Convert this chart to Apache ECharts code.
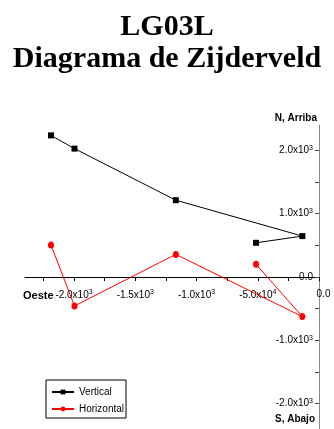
<!DOCTYPE html>
<html>
<head>
<meta charset="utf-8">
<script src="https://cdn.jsdelivr.net/npm/echarts@6/dist/echarts.min.js"></script>
<style>
  html, body { margin: 0; padding: 0; background: #fff; }
  #chart { width: 334px; height: 429px; }
</style>
</head>
<body>
<div id="chart"></div>
<script>
// East–west component shared by both projections
const eastWest = [-2188, -1996, -1169, -136, -514];
// Vertical projection (N/Up) and horizontal projection values
const verticalVals = [2236, 2027, 1213, 646, 540];
const horizontalVals = [504, -457, 357, -625, 200];

// Tick positions and their labels
const xTicks = [-2250, -2000, -1750, -1500, -1250, -1000, -750, -500, -250, 0];
const xLabelValues = [-2000, -1500, -1000, -500, 0];
const xLabelText = ['-2.0x10|3', '-1.5x10|3', '-1.0x10|3', '-5.0x10|4', '0.0'];
const yTicks = [-2000, -1500, -1000, -500, 0, 500, 1000, 1500, 2000];
const yLabelValues = [-2000, -1000, 0, 1000, 2000];
const yLabelText = ['-2.0x10|3', '-1.0x10|3', '0.0', '1.0x10|3', '2.0x10|3'];

const X_MIN = -2400, X_MAX = 0, Y_MIN = -2400, Y_MAX = 2400;
const GRID = { left: 25, right: 15, top: 125, height: 304 };
const FONT = '"Liberation Sans", Arial, sans-serif';

function richLabel(text, zeroStyle) {
  const parts = text.split('|');
  if (parts.length === 1) return '{' + zeroStyle + '|' + parts[0] + '}';
  return '{b|' + parts[0] + '}{s|' + parts[1] + '}';
}
function lookup(values, texts, zeroStyle) {
  return function (v) {
    const i = values.indexOf(Math.round(v));
    return i < 0 ? '' : richLabel(texts[i], zeroStyle);
  };
}
const baseRich = {
  b: { fontSize: 10, fontFamily: FONT, color: '#000', lineHeight: 12 },
  s: { fontSize: 7, fontFamily: FONT, color: '#000', verticalAlign: 'top', lineHeight: 12, padding: [0, 0, 4, 0] },
  z: { fontSize: 10, fontFamily: FONT, color: '#000', lineHeight: 12 },
  zx: { fontSize: 10, fontFamily: FONT, color: '#000', lineHeight: 12, padding: [0, 0, 2, 9] }
};

// the horizontal axis sits at y = 0 inside the plot box
const xAxisOffset = -GRID.height * (0 - Y_MIN) / (Y_MAX - Y_MIN);

const chart = echarts.init(document.getElementById('chart'), null, { renderer: 'canvas' });
chart.setOption({
  animation: false,
  backgroundColor: '#fff',
  title: {
    text: 'LG03L\nDiagrama de Zijderveld',
    left: 'center',
    top: 6,
    textStyle: {
      fontFamily: '"Liberation Serif", "Times New Roman", serif',
      fontWeight: 'bold',
      fontSize: 30,
      lineHeight: 32,
      color: '#000'
    }
  },
  grid: {
    left: GRID.left, right: GRID.right, top: GRID.top, height: GRID.height,
    containLabel: false, outerBoundsMode: 'none'
  },
  xAxis: {
    type: 'value',
    position: 'bottom',
    offset: xAxisOffset,
    min: X_MIN,
    max: X_MAX,
    axisLine: { onZero: false, lineStyle: { color: '#000', width: 1 } },
    axisTick: { customValues: xTicks, length: 4, lineStyle: { color: '#000' } },
    axisLabel: {
      customValues: xLabelValues,
      margin: 12,
      hideOverlap: false,
      showMinLabel: true,
      showMaxLabel: true,
      formatter: lookup(xLabelValues, xLabelText, 'zx'),
      rich: baseRich
    },
    splitLine: { show: false }
  },
  yAxis: {
    type: 'value',
    position: 'right',
    min: Y_MIN,
    max: Y_MAX,
    axisLine: { onZero: false, lineStyle: { color: '#888', width: 1 } },
    axisTick: { customValues: yTicks, inside: true, length: 4, lineStyle: { color: '#444' } },
    axisLabel: {
      customValues: yLabelValues,
      inside: true,
      margin: 6,
      hideOverlap: false,
      formatter: lookup(yLabelValues, yLabelText, 'z'),
      rich: baseRich
    },
    splitLine: { show: false }
  },
  legend: {
    orient: 'vertical',
    left: 46,
    top: 380,
    padding: [6, 2, 3, 5],
    itemGap: 5,
    itemWidth: 22,
    itemHeight: 6,
    borderColor: '#000',
    borderWidth: 1,
    borderRadius: 0,
    textStyle: { fontFamily: FONT, fontSize: 10, lineHeight: 12, color: '#000' },
    data: ['Vertical', 'Horizontal']
  },
  graphic: [
    { type: 'text', right: 17, top: 113, style: { text: 'N, Arriba', font: 'bold 10px ' + FONT, fill: '#000' } },
    { type: 'text', right: 19, top: 414, style: { text: 'S, Abajo', font: 'bold 10px ' + FONT, fill: '#000' } },
    { type: 'text', left: 23, top: 290, style: { text: 'Oeste', font: 'bold 11px ' + FONT, fill: '#000' } }
  ],
  series: [
    {
      name: 'Vertical',
      type: 'line',
      data: eastWest.map((x, i) => [x, verticalVals[i]]),
      symbol: 'rect',
      symbolSize: 6,
      itemStyle: { color: '#000' },
      lineStyle: { color: '#000', width: 1 }
    },
    {
      name: 'Horizontal',
      type: 'line',
      data: eastWest.map((x, i) => [x, horizontalVals[i]]),
      symbol: 'circle',
      symbolSize: [6, 7],
      itemStyle: { color: '#ff0000' },
      lineStyle: { color: '#ff0000', width: 1 }
    }
  ]
});
</script>
</body>
</html>
